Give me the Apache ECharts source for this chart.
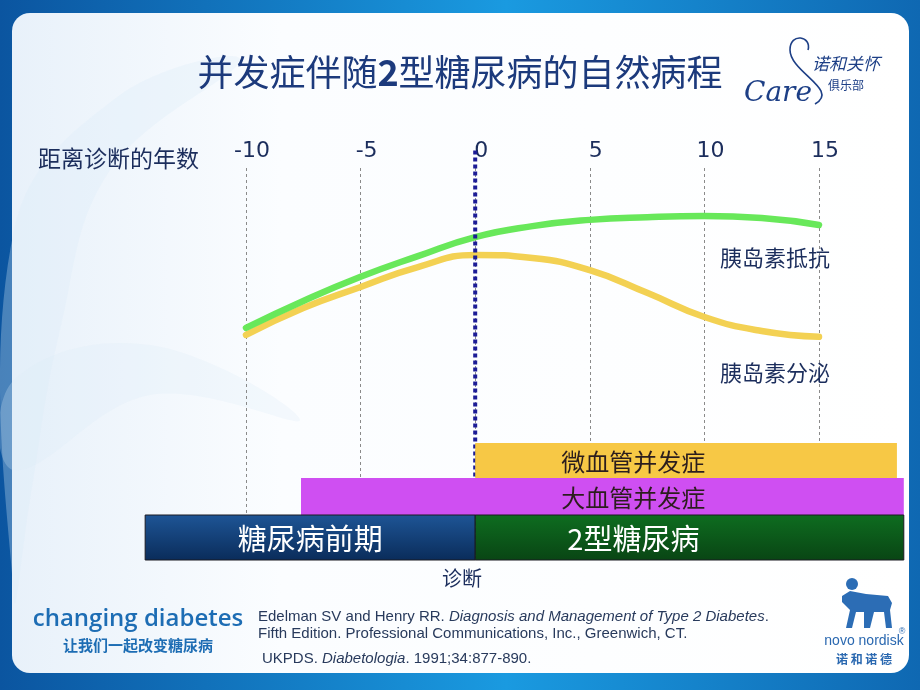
<!DOCTYPE html>
<html>
<head>
<meta charset="utf-8">
<script src="https://cdn.jsdelivr.net/npm/echarts@6/dist/echarts.min.js"></script>
<style>
html,body{margin:0;padding:0;background:#0c5ca6;}
#chart{width:920px;height:690px;}
</style>
</head>
<body>
<div id="chart"></div>
<script>
// ---- data ----
const years = [-10, -7.5, -5, -2.5, 0, 2.5, 5, 7.5, 10, 12.5, 15];
const insulinResistance = [59.0, 65.9, 72.1, 77.4, 82.3, 85.1, 86.7, 87.4, 87.7, 87.2, 85.4];
const insulinSecretion  = [57.2, 64.1, 69.5, 74.6, 77.7, 76.9, 73.8, 68.0, 61.8, 58.2, 56.7];
const tickYears = [-10, -5, 0, 5, 10, 15];
const diagnosisYear = 0;
const phaseNames   = ['微血管并发症', '大血管并发症', '糖尿病前期', '2型糖尿病'];
const phaseStart   = [0, -7.6, -14.4, 0];
const phaseEnd     = [18.4, 18.7, 0, 18.7];
const phaseRow     = [0, 1, 2, 2];
const phaseLabelAt = [6.9, 6.9, -7.2, 6.9];
const rowNames = ['微血管', '大血管', '病程'];

// ---- styles ----
const navy = '#1b2d5c';
const phaseFill = [
  '#f7c845',
  '#cf4ff2',
  new echarts.graphic.LinearGradient(0, 0, 0, 1, [{offset: 0, color: '#1e5596'}, {offset: 1, color: '#0a2c5a'}]),
  new echarts.graphic.LinearGradient(0, 0, 0, 1, [{offset: 0, color: '#0e6d20'}, {offset: 1, color: '#094514'}])
];
const phaseText = ['#2b1d1d', '#2b1d1d', '#ffffff', '#ffffff'];
const phaseFont = [24, 24, 29, 29];
const rowWeights = [35, 37, 45];

const chart = echarts.init(document.getElementById('chart'), null, {renderer: 'canvas'});

const option = {
  animation: false,
  backgroundColor: 'transparent',
  grid: [
    {left: 246, right: 101, top: 168, bottom: 132},
    {left: 246, right: 101, top: 443, bottom: 130}
  ],
  xAxis: [
    {
      type: 'value', gridIndex: 0, position: 'top',
      min: tickYears[0], max: tickYears[tickYears.length - 1], interval: 5,
      axisLine: {show: false}, axisTick: {show: false},
      axisLabel: {
        margin: 6, fontSize: 22, color: navy, fontFamily: 'DejaVu Sans',
        padding: [0, 0, 0, 12]
      },
      splitLine: {show: true, lineStyle: {color: '#8a8a8a', type: [3, 3], width: 1}}
    },
    {
      type: 'value', gridIndex: 1,
      min: tickYears[0], max: tickYears[tickYears.length - 1],
      show: false
    }
  ],
  yAxis: [
    {type: 'value', gridIndex: 0, min: 0, max: 100, show: false},
    {type: 'category', gridIndex: 1, data: rowNames, inverse: true, show: false}
  ],
  series: [
    {
      name: '诊断', type: 'line', xAxisIndex: 0, yAxisIndex: 0,
      data: [[diagnosisYear, 104.5], [diagnosisYear, 0]],
      showSymbol: false, clip: false, z: 5, silent: true,
      lineStyle: {color: '#1c1c96', width: 4, type: [4, 3]}
    },
    {
      name: '胰岛素抵抗', type: 'line', xAxisIndex: 0, yAxisIndex: 0,
      data: years.map((y, i) => [y, insulinResistance[i]]),
      smooth: 0.5, showSymbol: false, clip: false, z: 4,
      lineStyle: {color: '#68e85a', width: 6.5, cap: 'round'}
    },
    {
      name: '胰岛素分泌', type: 'line', xAxisIndex: 0, yAxisIndex: 0,
      data: years.map((y, i) => [y, insulinSecretion[i]]),
      smooth: 0.5, showSymbol: false, clip: false, z: 3,
      lineStyle: {color: '#f3d153', width: 6.5, cap: 'round'}
    },
    {
      name: 'phases', type: 'custom', xAxisIndex: 1, yAxisIndex: 1,
      clip: false, z: 10,
      data: phaseNames.map((n, i) => [phaseStart[i], phaseEnd[i], phaseRow[i], phaseLabelAt[i]]),
      renderItem: function (params, api) {
        const i = params.dataIndex;
        const x0 = api.coord([api.value(0), 0])[0];
        const x1 = api.coord([api.value(1), 0])[0];
        const lx = api.coord([api.value(3), 0])[0];
        const row = api.value(2);
        const cs = params.coordSys;
        const total = rowWeights.reduce((a, b) => a + b, 0);
        let top = cs.y;
        for (let r = 0; r < row; r++) top += cs.height * rowWeights[r] / total;
        const h = cs.height * rowWeights[row] / total;
        return {
          type: 'group',
          children: [
            {
              type: 'rect',
              shape: {x: x0, y: top, width: x1 - x0, height: h},
              style: {fill: phaseFill[i], stroke: i >= 2 ? '#1a1a22' : 'rgba(0,0,0,0)', lineWidth: i >= 2 ? 1 : 0}
            },
            {
              type: 'text',
              style: {
                x: lx, y: top + h / 2 + 1, text: phaseNames[i],
                textAlign: 'center', textVerticalAlign: 'middle',
                fill: phaseText[i], fontSize: phaseFont[i],
                fontFamily: '"Noto Sans CJK SC"'
              }
            }
          ]
        };
      }
    }
  ],
  graphic: [
    // background frame
    {type: 'rect', z: -20, shape: {x: 0, y: 0, width: 920, height: 690},
      style: {fill: new echarts.graphic.LinearGradient(0, 0, 1, 0, [
        {offset: 0, color: '#0b55a0'}, {offset: 0.55, color: '#1a9ae0'}, {offset: 1, color: '#0f68b2'}])}},
    {type: 'rect', z: -19, shape: {x: 12, y: 13, width: 897, height: 660, r: 18},
      style: {fill: new echarts.graphic.LinearGradient(0, 0, 1, 0, [
        {offset: 0, color: '#e8f1fa'}, {offset: 0.3, color: '#fbfdff'}, {offset: 1, color: '#ffffff'}])}},
    {type: 'polygon', z: -18, shape: {smooth: 0.4, points: [[14, 230], [120, 95], [240, 60], [110, 170], [60, 330], [30, 500], [14, 600]]},
      style: {fill: 'rgba(220,235,248,0.3)'}},
    {type: 'polygon', z: -18, shape: {smooth: 0.4, points: [[14, 380], [150, 345], [300, 420], [150, 395], [14, 470]]},
      style: {fill: 'rgba(220,235,248,0.25)'}},
    // title
    {type: 'text', z: 20, style: {
      x: 460, y: 72, textAlign: 'center', textVerticalAlign: 'middle',
      text: '{a|并发症伴随}{b|2}{a|型糖尿病的自然病程}',
      rich: {
        a: {fontSize: 36, fontFamily: '"Noto Sans CJK SC"', fill: '#1c3a7c', fontWeight: 'normal'},
        b: {fontSize: 36, fontFamily: '"Noto Sans CJK SC"', fill: '#1c3a7c', fontWeight: 'bold'}
      }}},
    // axis caption
    {type: 'text', z: 20, style: {x: 38, y: 158, text: '距离诊断的年数', textVerticalAlign: 'middle',
      fontSize: 23, fontFamily: '"Noto Sans CJK SC"', fill: navy}},
    // curve labels
    {type: 'text', z: 20, style: {x: 775, y: 258, text: '胰岛素抵抗', textAlign: 'center', textVerticalAlign: 'middle',
      fontSize: 22, fontFamily: '"Noto Sans CJK SC"', fill: navy}},
    {type: 'text', z: 20, style: {x: 775, y: 373, text: '胰岛素分泌', textAlign: 'center', textVerticalAlign: 'middle',
      fontSize: 22, fontFamily: '"Noto Sans CJK SC"', fill: navy}},
    {type: 'text', z: 20, style: {x: 462, y: 578, text: '诊断', textAlign: 'center', textVerticalAlign: 'middle',
      fontSize: 20, fontFamily: '"Noto Sans CJK SC"', fill: navy}},
    // footer left logo
    {type: 'text', z: 20, style: {x: 138, y: 619, text: 'changing diabetes', textAlign: 'center', textVerticalAlign: 'middle',
      fontSize: 24, fontFamily: '"Open Sans"', fontWeight: 600, fill: '#1d6db4'}},
    {type: 'text', z: 20, style: {x: 138, y: 645, text: '让我们一起改变糖尿病', textAlign: 'center', textVerticalAlign: 'middle',
      fontSize: 15, fontFamily: '"Noto Sans CJK SC"', fontWeight: 'bold', fill: '#1d6db4'}},
    // references
    {type: 'text', z: 20, style: {x: 258, y: 617, textVerticalAlign: 'middle',
      text: '{n|Edelman SV and Henry RR. }{i|Diagnosis and Management of Type 2 Diabetes}{n|.}',
      rich: {n: {fontSize: 15, fontFamily: '"Liberation Sans"', fill: '#283a5c'},
             i: {fontSize: 15, fontFamily: '"Liberation Sans"', fontStyle: 'italic', fill: '#283a5c'}}}},
    {type: 'text', z: 20, style: {x: 258, y: 634, textVerticalAlign: 'middle',
      text: 'Fifth Edition. Professional Communications, Inc., Greenwich, CT.',
      fontSize: 15, fontFamily: '"Liberation Sans"', fill: '#283a5c'}},
    {type: 'text', z: 20, style: {x: 262, y: 659, textVerticalAlign: 'middle',
      text: '{n|UKPDS. }{i|Diabetologia}{n|. 1991;34:877-890.}',
      rich: {n: {fontSize: 15, fontFamily: '"Liberation Sans"', fill: '#283a5c'},
             i: {fontSize: 15, fontFamily: '"Liberation Sans"', fontStyle: 'italic', fill: '#283a5c'}}}},
    // novo nordisk logo (simplified)
    {type: 'circle', z: 20, shape: {cx: 852, cy: 584, r: 6}, style: {fill: '#2c6db5'}},
    {type: 'polygon', z: 20, shape: {points: [[842, 596], [850, 591], [866, 594], [888, 596], [892, 603], [890, 610], [892, 628], [886, 628], [884, 612], [874, 612], [870, 628], [864, 628], [864, 612], [856, 612], [852, 628], [846, 628], [850, 610], [842, 602]]},
      style: {fill: '#2c6db5'}},
    {type: 'text', z: 20, style: {x: 864, y: 641, text: 'novo nordisk', textAlign: 'center', textVerticalAlign: 'middle',
      fontSize: 14, fontFamily: '"Liberation Sans"', fill: '#2a68b0'}},
    {type: 'text', z: 20, style: {x: 902, y: 632, text: '®', textAlign: 'center', textVerticalAlign: 'middle',
      fontSize: 9, fontFamily: '"Liberation Sans"', fill: '#2a68b0'}},
    {type: 'text', z: 20, style: {x: 864, y: 659, text: '诺 和 诺 德', textAlign: 'center', textVerticalAlign: 'middle',
      fontSize: 12, fontWeight: 'bold', fontFamily: '"Noto Sans CJK SC"', fill: '#2a68b0'}},
    // care logo (simplified)
    {type: 'bezierCurve', z: 20, shape: {x1: 815, y1: 104, cpx1: 840, cpy1: 90, cpx2: 790, cpy2: 72, x2: 790, y2: 50},
      style: {stroke: '#1d3f86', lineWidth: 1.6, fill: null}},
    {type: 'bezierCurve', z: 20, shape: {x1: 790, y1: 50, cpx1: 790, cpy1: 32, cpx2: 812, cpy2: 36, x2: 808, y2: 50},
      style: {stroke: '#1d3f86', lineWidth: 1.6, fill: null}},
    {type: 'text', z: 20, style: {x: 778, y: 94, text: 'Care', textAlign: 'center', textVerticalAlign: 'middle',
      fontSize: 28, fontFamily: '"DejaVu Serif"', fontStyle: 'italic', fill: '#1d3f86'}},
    {type: 'text', z: 20, style: {x: 846, y: 64, text: '诺和关怀', textAlign: 'center', textVerticalAlign: 'middle',
      fontSize: 17, fontFamily: '"Noto Sans CJK SC"', fontStyle: 'italic', fill: '#1d3f86'}},
    {type: 'text', z: 20, style: {x: 846, y: 85, text: '俱乐部', textAlign: 'center', textVerticalAlign: 'middle',
      fontSize: 12, fontFamily: '"Noto Sans CJK SC"', fill: '#1d3f86'}}
  ]
};
chart.setOption(option);
</script>
</body>
</html>
